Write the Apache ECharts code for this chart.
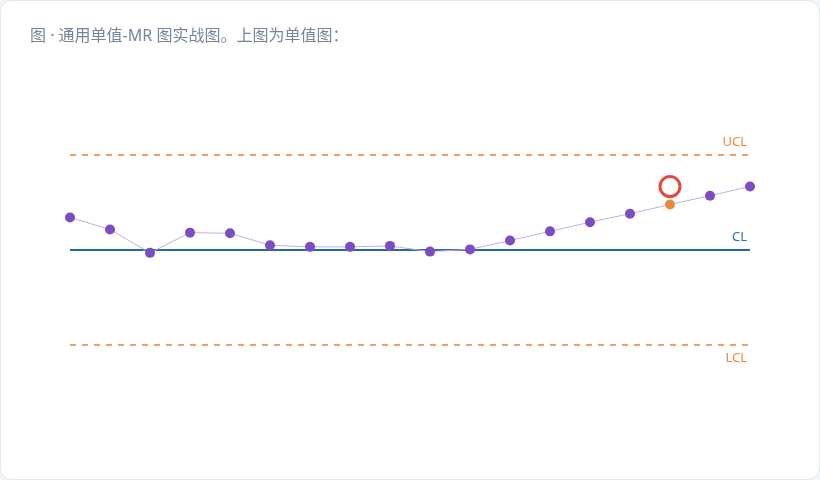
<!DOCTYPE html>
<html>
<head>
<meta charset="utf-8">
<script src="https://cdn.jsdelivr.net/npm/echarts@6/dist/echarts.min.js"></script>
<style>
  html, body { margin: 0; padding: 0; background: #f3f5f9; }
  #card {
    position: absolute; left: 0; top: 0;
    width: 818px; height: 478px;
    background: #fff; border: 1px solid #e3e7ee; border-radius: 12px;
    overflow: hidden;
  }
  #chart { width: 818px; height: 478px; }
</style>
</head>
<body>
<div id="card"><div id="chart"></div></div>
<script>
  'use strict'

  /*-----data-----*/
  var samples = ['1', '2', '3', '4', '5', '6', '7', '8', '9', '10', '11', '12', '13', '14', '15', '16', '17', '18'];
  var values = [11.02, 10.64, 9.90, 10.54, 10.52, 10.14, 10.09, 10.09, 10.12, 9.94, 10.01, 10.29, 10.58, 10.87, 11.14, 11.43, 11.71, 12.00];
  var flagged = [15];
  var ucl = 13, cl = 10, lcl = 7;

  var seriesData = values.map(function(v, i) {
    if (flagged.indexOf(i) >= 0) {
      return { value: v, itemStyle: { color: '#e98a3c' } };
    }
    return v;
  });

  var chart = echarts.init(document.getElementById('chart'));
  var option = {
    animation: false,
    title: {
      text: '图 · 通用单值-MR 图实战图。上图为单值图：',
      left: 24,
      top: 22,
      textStyle: {
        fontFamily: '"Noto Sans", "Noto Sans CJK SC", sans-serif',
        fontSize: 16,
        fontWeight: 'normal',
        color: '#76849a'
      }
    },
    grid: {
      left: 69,
      right: 69,
      top: 122.3,
      bottom: 478 - 375.1
    },
    xAxis: {
      type: 'category',
      data: samples,
      boundaryGap: false,
      show: false
    },
    yAxis: {
      type: 'value',
      min: 6,
      max: 14,
      show: false
    },
    series: [{
      name: 'X',
      type: 'line',
      data: seriesData,
      symbol: 'circle',
      symbolSize: 10,
      lineStyle: { color: '#c2aee3', width: 1 },
      itemStyle: { color: '#7d4cc1' },
      z: 5,
      markLine: {
        silent: true,
        symbol: 'none',
        label: {
          fontFamily: '"Noto Sans", sans-serif',
          fontSize: 13
        },
        data: [{
          yAxis: ucl,
          lineStyle: { color: '#f0a062', type: [6, 6], width: 2 },
          label: { formatter: 'UCL', position: 'insideEndTop', color: '#ea8a3f', distance: [3, 6] }
        }, {
          yAxis: cl,
          lineStyle: { color: '#2368ae', type: 'solid', width: 2 },
          label: { formatter: 'CL', position: 'insideEndTop', color: '#2a6db3', distance: [3, 6] }
        }, {
          yAxis: lcl,
          lineStyle: { color: '#f0a062', type: [6, 6], width: 2 },
          label: { formatter: 'LCL', position: 'insideEndBottom', color: '#ea8a3f', distance: [3, 7] }
        }]
      },
      markPoint: {
        silent: true,
        symbol: 'circle',
        symbolSize: 20,
        symbolOffset: [0, -18],
        label: { show: false },
        itemStyle: { color: 'rgba(0,0,0,0)', borderColor: '#e5493b', borderWidth: 3 },
        data: flagged.map(function(i) { return { coord: [i, values[i]] }; })
      }
    }]
  };
  chart.setOption(option);
</script>
</body>
</html>
